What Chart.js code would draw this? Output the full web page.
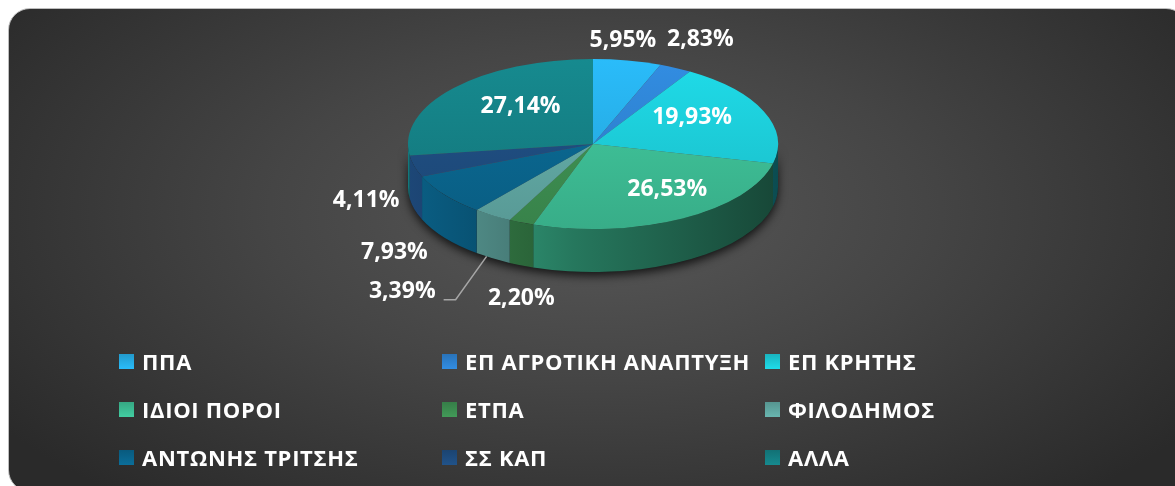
<!DOCTYPE html>
<html>
<head>
<meta charset="utf-8">
<script src="https://cdn.jsdelivr.net/npm/chart.js@4.4.1/dist/chart.umd.min.js"></script>
<style>
  html, body { margin: 0; padding: 0; background: #ffffff; width: 1175px; height: 486px; overflow: hidden; }
  #bg {
    position: absolute; left: 8px; top: 8px; width: 1180px; height: 484px;
    border-radius: 22px; border: 1px solid #bdbdbd; box-sizing: border-box;
    background: radial-gradient(ellipse 62% 78% at 50% 42%, #585858 0%, #454545 45%, #2a2a2a 100%);
  }
  #wrap { position: absolute; left: 0; top: 0; width: 1175px; height: 486px; }
  #legend { position: absolute; left: 0; top: 0; width: 1175px; height: 486px; pointer-events: none; }
  .item { position: absolute; height: 26px; display: flex; align-items: center;
          font-family: "Open Sans", sans-serif; font-weight: 700; font-size: 22px; letter-spacing: 0.7px;
          color: #ffffff; white-space: nowrap; }
  .box { width: 15px; height: 15px; margin-right: 8px; flex: none; }
</style>
</head>
<body>
<div id="bg"></div>
<div id="wrap"><canvas id="c" width="1175" height="486"></canvas></div>
<div id="legend"></div>
<script>
// ---- data ----
const categories = ['ΠΠΑ', 'ΕΠ ΑΓΡΟΤΙΚΗ ΑΝΑΠΤΥΞΗ', 'ΕΠ ΚΡΗΤΗΣ', 'ΙΔΙΟΙ ΠΟΡΟΙ', 'ΕΤΠΑ', 'ΦΙΛΟΔΗΜΟΣ', 'ΑΝΤΩΝΗΣ ΤΡΙΤΣΗΣ', 'ΣΣ ΚΑΠ', 'ΑΛΛΑ'];
const shares = [5.95, 2.83, 19.93, 26.53, 2.20, 3.39, 7.93, 4.11, 27.14];
const sliceColors = ['#26ABE3', '#2D80CD', '#1CC8D4', '#3CBA92', '#3C8C50', '#5FA5A0', '#0A648C', '#1E4B7D', '#147D82'];

// ---- layout (not data) ----
const pieCY = 144;          // ellipse centre on screen
const tilt = 85 / 185;      // vertical squash of the top face
const depth = 43;           // thickness of the 3D side
// label placement factors relative to slice mid-angle (x and y radial factors)
const labelFx = [0.87, 1.30, 0.58, 0.83, 1.00, 1.90, 1.34, 1.27, 0.52];
const labelFy = [1.24, 1.37, 0.80, 0.61, 1.97, 2.07, 2.13, 2.55, 0.68];
const leaderFor = [false, false, false, false, false, true, false, false, false];
const legendCols = 3;
const legendX0 = 119, legendColW = 323, legendY0 = 361, legendRowH = 48;

function fmt(v) { return v.toFixed(2).replace('.', ',') + '%'; }
function rgb(hex) { return [parseInt(hex.slice(1,3),16), parseInt(hex.slice(3,5),16), parseInt(hex.slice(5,7),16)]; }
function shade(hex, f) {
  const c = rgb(hex).map(v => Math.max(0, Math.min(255, Math.round(v * f))));
  return 'rgb(' + c.join(',') + ')';
}

const pie3d = {
  id: 'pie3d',
  beforeDatasetsDraw(chart) {
    const ctx = chart.ctx;
    const meta = chart.getDatasetMeta(0);
    if (!meta.data.length) return;
    const p0 = meta.data[0].getProps(['x', 'y', 'outerRadius']);
    const cx = p0.x, rx = p0.outerRadius, ry = rx * tilt;
    // drop shadow under the pie body
    ctx.save();
    ctx.shadowColor = 'rgba(0,0,0,0.75)';
    ctx.shadowBlur = 10;
    ctx.shadowOffsetY = 4;
    ctx.fillStyle = '#1a1a1a';
    ctx.beginPath();
    ctx.ellipse(cx, pieCY, rx, ry, 0, 0, Math.PI, false);
    ctx.ellipse(cx, pieCY + depth, rx, ry, 0, Math.PI, 0, true);
    ctx.closePath();
    ctx.fill();
    ctx.restore();
    // side walls
    meta.data.forEach((arc, i) => {
      const p = arc.getProps(['startAngle', 'endAngle']);
      const a = Math.max(p.startAngle, 0), b = Math.min(p.endAngle, Math.PI);
      if (a >= b) return;
      const g = ctx.createLinearGradient(cx - rx, 0, cx + rx, 0);
      g.addColorStop(0, shade(sliceColors[i], 0.95));
      g.addColorStop(0.45, shade(sliceColors[i], 0.64));
      g.addColorStop(1, shade(sliceColors[i], 0.38));
      ctx.save();
      ctx.fillStyle = g;
      ctx.beginPath();
      ctx.ellipse(cx, pieCY, rx, ry, 0, a, b, false);
      ctx.ellipse(cx, pieCY + depth, rx, ry, 0, b, a, true);
      ctx.closePath();
      ctx.fill();
      ctx.restore();
    });
    // squash top face
    ctx.save();
    ctx.translate(0, pieCY - p0.y * tilt);
    ctx.scale(1, tilt);
  },
  afterDatasetsDraw(chart) {
    const ctx = chart.ctx;
    const meta = chart.getDatasetMeta(0);
    if (!meta.data.length) return;
    ctx.restore();
    const p0 = meta.data[0].getProps(['x', 'outerRadius']);
    const cx = p0.x, rx = p0.outerRadius, ry = rx * tilt;
    ctx.save();
    ctx.font = 'bold 23px "Open Sans", sans-serif';
    ctx.fillStyle = '#ffffff';
    ctx.textAlign = 'center';
    ctx.textBaseline = 'middle';
    meta.data.forEach((arc, i) => {
      const p = arc.getProps(['startAngle', 'endAngle']);
      const m = (p.startAngle + p.endAngle) / 2;
      const x = cx + rx * labelFx[i] * Math.cos(m);
      const y = pieCY + ry * labelFy[i] * Math.sin(m);
      const txt = fmt(shares[i]);
      ctx.fillText(txt, x, y);
      if (leaderFor[i]) {
        const w = ctx.measureText(txt).width;
        const sx = x + w / 2 + 8, sy = y + 8;
        const ex = cx + rx * Math.cos(m) , ey = pieCY + depth + ry * Math.sin(m);
        ctx.save();
        ctx.strokeStyle = '#a6a6a6';
        ctx.lineWidth = 1.5;
        ctx.beginPath();
        ctx.moveTo(sx, sy);
        ctx.lineTo(sx + 12, sy);
        ctx.lineTo(ex - 6, ey - 2);
        ctx.stroke();
        ctx.restore();
      }
    });
    ctx.restore();
  }
};

const chart = new Chart(document.getElementById('c'), {
  type: 'pie',
  data: {
    labels: categories,
    datasets: [{
      data: shares,
      clip: false,
      borderWidth: 0,
      backgroundColor(context) {
        const ch = context.chart;
        const area = ch.chartArea;
        const base = sliceColors[context.dataIndex];
        if (!area) return base;
        const g = ch.ctx.createLinearGradient(0, area.top, 0, area.bottom);
        g.addColorStop(0, shade(base, 1.1));
        g.addColorStop(1, shade(base, 0.93));
        return g;
      }
    }]
  },
  options: {
    responsive: false,
    animation: false,
    devicePixelRatio: 1,
    layout: { padding: { left: 408, right: 397, top: 0, bottom: 116 } },
    plugins: { legend: { display: false }, tooltip: { enabled: false } }
  },
  plugins: [pie3d]
});

// HTML legend built from the same arrays
const legend = document.getElementById('legend');
categories.forEach((name, i) => {
  const col = i % legendCols, row = Math.floor(i / legendCols);
  const d = document.createElement('div');
  d.className = 'item';
  d.style.left = (legendX0 + col * legendColW) + 'px';
  d.style.top = (legendY0 + row * legendRowH - 13) + 'px';
  const b = document.createElement('span');
  b.className = 'box';
  b.style.background = 'linear-gradient(' + shade(sliceColors[i], 0.9) + ',' + shade(sliceColors[i], 1.1) + ')';
  const t = document.createElement('span');
  t.textContent = name;
  d.appendChild(b); d.appendChild(t);
  legend.appendChild(d);
});
</script>
</body>
</html>
